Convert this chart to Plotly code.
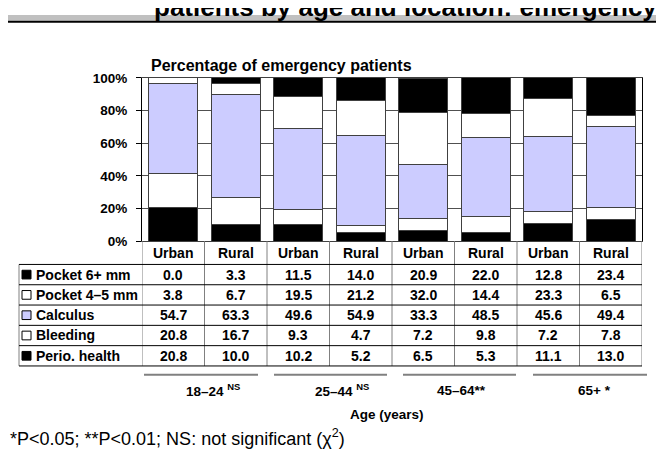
import plotly.graph_objects as go

# ---------------- data ----------------
locations = ["Urban", "Rural", "Urban", "Rural", "Urban", "Rural", "Urban", "Rural"]
age_groups = ["18–24 <sup>NS</sup>", "25–44 <sup>NS</sup>", "45–64**", "65+ *"]

pocket6 = [0.0, 3.3, 11.5, 14.0, 20.9, 22.0, 12.8, 23.4]
pocket45 = [3.8, 6.7, 19.5, 21.2, 32.0, 14.4, 23.3, 6.5]
calculus = [54.7, 63.3, 49.6, 54.9, 33.3, 48.5, 45.6, 49.4]
bleeding = [20.8, 16.7, 9.3, 4.7, 7.2, 9.8, 7.2, 7.8]
perio = [20.8, 10.0, 10.2, 5.2, 6.5, 5.3, 11.1, 13.0]

y_ticks = [0, 20, 40, 60, 80, 100]
y_tick_labels = ["0%", "20%", "40%", "60%", "80%", "100%"]

# series stacked bottom -> top
stack = [
    ("Perio. health", perio, "#000000"),
    ("Bleeding", bleeding, "#FFFFFF"),
    ("Calculus", calculus, "#CCCCFF"),
    ("Pocket 4–5 mm", pocket45, "#FFFFFF"),
    ("Pocket 6+ mm", pocket6, "#000000"),
]
# table rows top -> bottom
table_rows = list(reversed(stack))

# ---------------- layout helpers ----------------
W, H = 664, 452
FONT = "Liberation Sans, Arial, sans-serif"


def px(x):
    return x / W


def py(y):
    return 1 - y / H


PLOT_L, PLOT_R, PLOT_T, PLOT_B = 134, 634, 65, 234
TABLE_TOP = 258
ROW_H = 21
TABLE_LEFT = 11
TXT = 14

fig = go.Figure()
xs = list(range(len(locations)))
for name, vals, col in stack:
    fig.add_trace(go.Bar(
        x=xs, y=vals, name=name, width=0.78,
        marker=dict(color=col, line=dict(color="#404040", width=1)),
        hoverinfo="skip", showlegend=False,
    ))

shapes = []
annotations = []

# banner
shapes.append(dict(type="rect", xref="paper", yref="paper", x0=0, x1=1,
                   y0=py(6), y1=1, fillcolor="#C0C0C0", line=dict(width=0), layer="below"))
shapes.append(dict(type="line", xref="paper", yref="paper", x0=0, x1=1,
                   y0=py(7), y1=py(7), line=dict(color="#000000", width=2)))
annotations.append(dict(text="<b>patients by age and location: emergency</b>",
                        xref="paper", yref="paper", x=px(651), y=py(-8),
                        xanchor="right", yanchor="middle", showarrow=False,
                        font=dict(family=FONT, size=26, color="#000000")))

# title
annotations.append(dict(text="<b>Percentage of emergency patients</b>",
                        xref="paper", yref="paper", x=px(141), y=py(52),
                        xanchor="left", yanchor="middle", showarrow=False,
                        font=dict(family=FONT, size=16, color="#000000")))

# header row (locations)
for i, loc in enumerate(locations):
    annotations.append(dict(text=f"<b>{loc}</b>", xref="x", yref="paper", x=i,
                            y=py(246), xanchor="center", yanchor="middle",
                            showarrow=False,
                            font=dict(family=FONT, size=TXT, color="#000000")))

# table rows
for r, (name, vals, col) in enumerate(table_rows):
    yc = TABLE_TOP + ROW_H * r + ROW_H / 2
    shapes.append(dict(type="rect", xref="paper", yref="paper",
                       x0=px(14), x1=px(23), y0=py(yc + 4.5), y1=py(yc - 4.5),
                       fillcolor=col, line=dict(color="#000000", width=1)))
    annotations.append(dict(text=f"<b>{name}</b>", xref="paper", yref="paper",
                            x=px(26), y=py(yc), xanchor="left", yanchor="middle",
                            showarrow=False,
                            font=dict(family=FONT, size=TXT, color="#000000")))
    for i, v in enumerate(vals):
        annotations.append(dict(text=f"<b>{v:.1f}</b>", xref="x", yref="paper",
                                x=i, y=py(yc), xanchor="center", yanchor="middle",
                                showarrow=False,
                                font=dict(family=FONT, size=TXT, color="#000000")))

table_bottom = TABLE_TOP + ROW_H * len(table_rows)
# vertical table lines
for k in range(len(locations) + 1):
    shapes.append(dict(type="line", xref="x", yref="paper", x0=k - 0.5, x1=k - 0.5,
                       y0=py(PLOT_B), y1=py(table_bottom),
                       line=dict(color="#808080", width=1)))
shapes.append(dict(type="line", xref="paper", yref="paper", x0=px(TABLE_LEFT),
                   x1=px(TABLE_LEFT), y0=py(TABLE_TOP), y1=py(table_bottom),
                   line=dict(color="#808080", width=1)))
# horizontal table lines
for r in range(len(table_rows) + 1):
    yy = TABLE_TOP + ROW_H * r
    shapes.append(dict(type="line", xref="paper", yref="paper", x0=px(TABLE_LEFT),
                       x1=px(PLOT_R), y0=py(yy), y1=py(yy),
                       line=dict(color="#000000", width=1)))

# age group lines & labels
group_lines = [(136, 250), (266, 379), (395, 508), (525, 639)]
group_label_x = [205, 334, 453, 586]
for (a, b), lx, g in zip(group_lines, group_label_x, age_groups):
    shapes.append(dict(type="line", xref="paper", yref="paper", x0=px(a), x1=px(b),
                       y0=py(372), y1=py(372), line=dict(color="#808080", width=2)))
    annotations.append(dict(text=f"<b>{g}</b>", xref="paper", yref="paper",
                            x=px(lx), y=py(388), xanchor="center", yanchor="middle",
                            showarrow=False,
                            font=dict(family=FONT, size=13.5, color="#000000")))

annotations.append(dict(text="<b>Age (years)</b>", xref="paper", yref="paper",
                        x=px(379), y=py(413), xanchor="center", yanchor="middle",
                        showarrow=False, font=dict(family=FONT, size=13.5, color="#000000")))
annotations.append(dict(text="*P<0.05; **P<0.01; NS: not significant (χ<sup>2</sup>)",
                        xref="paper", yref="paper", x=0, y=py(437),
                        xanchor="left", yanchor="middle", showarrow=False,
                        font=dict(family=FONT, size=18, color="#000000")))

fig.update_layout(
    width=W, height=H,
    margin=dict(l=0, r=0, t=0, b=0),
    paper_bgcolor="white", plot_bgcolor="white",
    barmode="stack", bargap=0.22,
    shapes=shapes, annotations=annotations,
    xaxis=dict(domain=[px(PLOT_L), px(PLOT_R)], range=[-0.5, len(locations) - 0.5],
               showticklabels=False, showgrid=False, zeroline=False,
               showline=True, mirror=True, linecolor="#404040", linewidth=1,
               ticks="", fixedrange=True),
    yaxis=dict(domain=[py(PLOT_B), py(PLOT_T)], range=[0, 100],
               tickvals=y_ticks, ticktext=y_tick_labels,
               ticks="outside", ticklen=5, tickcolor="#000000",
               ticklabelstandoff=6,
               tickfont=dict(family=FONT, size=13.5, color="#000000", weight="bold"),
               showgrid=True, gridcolor="#505050", gridwidth=1, zeroline=False,
               showline=True, mirror=True, linecolor="#000000", linewidth=1,
               fixedrange=True),
    font=dict(family=FONT, color="#000000"),
)

fig.write_html("out.html")
